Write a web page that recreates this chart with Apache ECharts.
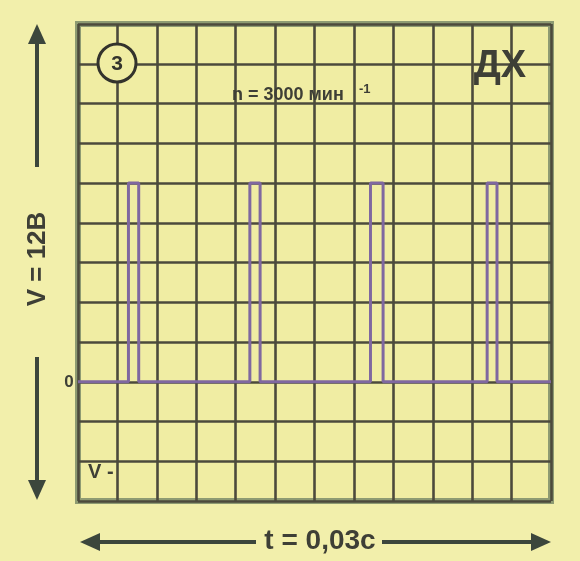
<!DOCTYPE html>
<html>
<head>
<meta charset="utf-8">
<script src="https://cdn.jsdelivr.net/npm/echarts@6/dist/echarts.min.js"></script>
<style>
html,body{margin:0;padding:0;background:#f2efab;}
#c{width:580px;height:561px;}
</style>
</head>
<body>
<div id="c"></div>
<script>
// Time axis in grid divisions (12 divisions = 0.03 s), voltage in divisions
var xMin = 0, xMax = 12;
var yMin = -3, yMax = 9;
var riseTimes = [1.28, 4.36, 7.42, 10.38];
var fallTimes = [1.54, 4.62, 7.74, 10.63];
var lowLevel = 0;
var highLevel = 5;

var trace = [[xMin, lowLevel]];
for (var i = 0; i < riseTimes.length; i++) {
  trace.push([riseTimes[i], lowLevel]);
  trace.push([riseTimes[i], highLevel]);
  trace.push([fallTimes[i], highLevel]);
  trace.push([fallTimes[i], lowLevel]);
}
trace.push([xMax, lowLevel]);

var gridColor = '#4c4a3c';
var ink = '#3e3f36';
var arrowInk = '#3c463c';
var plotBg = '#f0eda3';

var chart = echarts.init(document.getElementById('c'));
chart.setOption({
  backgroundColor: '#f2efab',
  animation: false,
  grid: {
    left: 78, right: 29, top: 24, bottom: 60,
    show: true, backgroundColor: plotBg,
    borderColor: '#8e9b72', borderWidth: 6
  },
  xAxis: {
    type: 'value', min: xMin, max: xMax, interval: 1,
    axisLine: {show: false}, axisTick: {show: false}, axisLabel: {show: false},
    splitLine: {show: true, lineStyle: {color: gridColor, width: 2.6}}
  },
  yAxis: {
    type: 'value', min: yMin, max: yMax, interval: 1,
    axisLine: {show: false}, axisTick: {show: false}, axisLabel: {show: false},
    splitLine: {show: true, lineStyle: {color: gridColor, width: 2.6}}
  },
  series: [{
    type: 'line',
    data: trace,
    symbol: 'none',
    lineStyle: {color: '#7f68a0', width: 3},
    z: 5
  }],
  graphic: [
    // circled number
    {type: 'circle', shape: {cx: 117, cy: 63, r: 19}, style: {fill: plotBg, stroke: '#33332c', lineWidth: 3}, z: 10},
    {type: 'text', x: 117, y: 64, style: {text: '3', font: 'bold 21px "Liberation Sans", Arial, sans-serif', fill: '#33332c', align: 'center', verticalAlign: 'middle'}, z: 11},
    // n = 3000 min^-1
    {type: 'text', x: 232, y: 95, style: {text: 'n = 3000 мин', font: 'bold 18px "Liberation Sans", Arial, sans-serif', fill: ink, align: 'left', verticalAlign: 'middle'}, z: 10},
    {type: 'text', x: 359, y: 89, style: {text: '-1', font: 'bold 13px "Liberation Sans", Arial, sans-serif', fill: ink, align: 'left', verticalAlign: 'middle'}, z: 10},
    // DX
    {type: 'text', x: 500, y: 67, style: {text: 'ДХ', font: 'bold 38px "Liberation Sans", Arial, sans-serif', fill: ink, align: 'center', verticalAlign: 'middle'}, z: 10},
    // zero label and V marker
    {type: 'text', x: 69, y: 382, style: {text: '0', font: 'bold 17px "Liberation Sans", Arial, sans-serif', fill: ink, align: 'center', verticalAlign: 'middle'}, z: 10},
    {type: 'text', x: 88, y: 472, style: {text: 'V -', font: 'bold 20px "Liberation Sans", Arial, sans-serif', fill: ink, align: 'left', verticalAlign: 'middle'}, z: 10},
    // vertical arrows and label
    {type: 'line', shape: {x1: 37, y1: 40, x2: 37, y2: 167}, style: {stroke: arrowInk, lineWidth: 4}, z: 10},
    {type: 'polygon', shape: {points: [[37, 24], [28, 44], [46, 44]]}, style: {fill: arrowInk}, z: 10},
    {type: 'line', shape: {x1: 37, y1: 357, x2: 37, y2: 484}, style: {stroke: arrowInk, lineWidth: 4}, z: 10},
    {type: 'polygon', shape: {points: [[37, 500], [28, 480], [46, 480]]}, style: {fill: arrowInk}, z: 10},
    {type: 'text', x: 38, y: 259, rotation: Math.PI / 2, style: {text: 'V = 12B', font: 'bold 26px "Liberation Sans", Arial, sans-serif', fill: ink, align: 'center', verticalAlign: 'middle'}, z: 10},
    // horizontal arrows and label
    {type: 'line', shape: {x1: 96, y1: 542, x2: 256, y2: 542}, style: {stroke: arrowInk, lineWidth: 4}, z: 10},
    {type: 'polygon', shape: {points: [[80, 542], [100, 533], [100, 551]]}, style: {fill: arrowInk}, z: 10},
    {type: 'line', shape: {x1: 382, y1: 542, x2: 535, y2: 542}, style: {stroke: arrowInk, lineWidth: 4}, z: 10},
    {type: 'polygon', shape: {points: [[551, 542], [531, 533], [531, 551]]}, style: {fill: arrowInk}, z: 10},
    {type: 'text', x: 320, y: 541, style: {text: 't = 0,03c', font: 'bold 28px "Liberation Sans", Arial, sans-serif', fill: ink, align: 'center', verticalAlign: 'middle'}, z: 10}
  ]
});
</script>
</body>
</html>
